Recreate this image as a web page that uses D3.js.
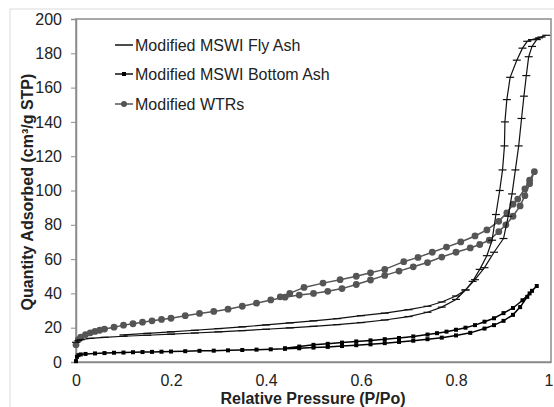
<!DOCTYPE html>
<html>
<head>
<meta charset="utf-8">
<script src="https://cdn.jsdelivr.net/npm/d3@7"></script>
<style>
  body { margin: 0; background: #fff; }
  svg { font-family: "Liberation Sans", Arial, sans-serif; }
  .tick-label { font-size: 16px; fill: #222; }
  .label { font-size: 16px; font-weight: bold; fill: #222; }
  .legend { font-size: 16px; fill: #222; }
</style>
</head>
<body>
<svg width="554" height="407"></svg>
<script>
// **** data: [relative pressure, quantity adsorbed] ****

var flyAshAds = [
  [0, 11.5], [0.005, 12.5], [0.01, 13], [0.03, 13.8], [0.06, 14.4], [0.1, 15],
  [0.15, 15.6], [0.2, 16.2], [0.25, 16.9], [0.3, 17.6], [0.35, 18.3], [0.4, 19.1],
  [0.45, 19.9], [0.5, 20.8], [0.55, 21.8], [0.6, 23], [0.65, 24.5], [0.7, 26.5],
  [0.74, 29], [0.77, 32], [0.8, 36.5], [0.82, 42], [0.84, 48], [0.86, 55],
  [0.88, 64], [0.9, 72], [0.91, 85], [0.918, 98], [0.925, 112], [0.932, 126],
  [0.938, 142], [0.943, 155], [0.948, 167], [0.953, 178], [0.96, 184],
  [0.97, 188], [0.98, 189.5], [0.99, 190.5]
];
var flyAshDes = [
  [0.99, 190.5], [0.975, 189], [0.96, 188], [0.95, 187], [0.94, 183],
  [0.928, 176], [0.914, 166], [0.907, 153], [0.903, 140], [0.902, 126],
  [0.898, 112], [0.892, 100], [0.884, 86], [0.876, 71], [0.865, 62],
  [0.85, 54], [0.835, 47], [0.82, 42], [0.8, 38.5], [0.77, 35], [0.74, 32.5],
  [0.7, 30.5], [0.65, 28.5], [0.6, 27], [0.55, 25.3], [0.5, 24], [0.45, 22.8],
  [0.4, 21.6], [0.35, 20.5], [0.3, 19.5], [0.25, 18.5], [0.2, 17.6],
  [0.15, 16.7], [0.1, 15.8]
];

var bottomAshAds = [
  [0, 0.5], [0.002, 3], [0.005, 4], [0.01, 4.4], [0.02, 4.7], [0.04, 5],
  [0.06, 5.2], [0.08, 5.4], [0.1, 5.5], [0.12, 5.7], [0.14, 5.8], [0.16, 5.9],
  [0.18, 6], [0.2, 6.1], [0.23, 6.3], [0.26, 6.5], [0.29, 6.6], [0.32, 6.8],
  [0.35, 7], [0.38, 7.2], [0.41, 7.4], [0.44, 7.7], [0.47, 8], [0.5, 8.4],
  [0.53, 8.8], [0.56, 9.3], [0.59, 9.8], [0.62, 10.3], [0.65, 11], [0.68, 11.7],
  [0.71, 12.4], [0.74, 13.3], [0.77, 14.2], [0.8, 15.5], [0.83, 17],
  [0.86, 19.5], [0.88, 21.5], [0.9, 24], [0.92, 27.5], [0.935, 32],
  [0.95, 38], [0.96, 41.5], [0.97, 44.3]
];
var bottomAshDes = [
  [0.97, 44.3], [0.955, 40], [0.94, 36], [0.92, 31.5], [0.9, 28.5],
  [0.88, 25.5], [0.86, 23.5], [0.84, 21.5], [0.82, 20], [0.8, 18.8],
  [0.78, 17.7], [0.76, 16.8], [0.74, 16], [0.71, 14.9], [0.68, 14],
  [0.65, 13.3], [0.62, 12.6], [0.59, 12], [0.56, 11.3], [0.53, 10.6],
  [0.5, 10], [0.47, 9], [0.44, 8]
];

var wtrsAds = [
  [0, 10], [0.005, 13], [0.01, 14.5], [0.02, 16], [0.03, 17], [0.04, 17.8],
  [0.05, 18.5], [0.06, 19.2], [0.08, 20.3], [0.1, 21.5], [0.12, 22.3],
  [0.14, 23.2], [0.16, 24], [0.18, 24.8], [0.2, 25.5], [0.23, 27], [0.26, 28.3],
  [0.29, 29.5], [0.32, 30.8], [0.35, 32.5], [0.38, 34.3], [0.41, 36.2],
  [0.44, 37.8], [0.47, 39], [0.5, 40], [0.53, 41.2], [0.56, 42.8], [0.59, 45.2],
  [0.62, 47.8], [0.65, 50.5], [0.68, 53], [0.71, 55.5], [0.74, 58],
  [0.77, 61.2], [0.8, 64], [0.83, 66.5], [0.85, 68.5], [0.87, 71],
  [0.89, 76], [0.905, 80], [0.92, 85], [0.935, 91], [0.945, 97],
  [0.955, 104], [0.965, 111]
];
var wtrsDes = [
  [0.965, 111], [0.955, 106], [0.945, 101], [0.93, 95], [0.92, 92],
  [0.907, 87], [0.89, 82], [0.865, 77], [0.84, 73.5], [0.81, 70],
  [0.78, 67], [0.75, 64], [0.72, 61], [0.69, 58.5], [0.65, 54], [0.62, 52],
  [0.59, 50], [0.556, 48], [0.52, 46], [0.48, 43.5], [0.45, 40], [0.43, 38]
];

var seriesNames = ["Modified MSWI Fly Ash", "Modified MSWI Bottom Ash", "Modified WTRs"];
var xTicks = [0, 0.2, 0.4, 0.6, 0.8, 1];
var yTicks = [0, 20, 40, 60, 80, 100, 120, 140, 160, 180, 200];

// **** scales ****

var xScale = d3.scaleLinear().domain([0, 1]).range([76, 551]);
var yScale = d3.scaleLinear().domain([0, 200]).range([362, 19]);

var svg = d3.select("svg");

// outer chart border
svg.append("rect")
    .attr("x", 10).attr("y", 9)
    .attr("width", 560).attr("height", 420)
    .attr("fill", "none")
    .attr("stroke", "#dcdcdc");

// plot area border
svg.append("rect")
    .attr("x", xScale(0)).attr("y", yScale(200))
    .attr("width", xScale(1) - xScale(0))
    .attr("height", yScale(0) - yScale(200))
    .attr("fill", "none")
    .attr("stroke", "#8c8c8c")
    .attr("stroke-width", 1.5);

// y axis ticks + labels
var yAxis = svg.append("g").attr("class", "y axis")
    .attr("transform", "translate(" + xScale(0) + ",0)")
    .call(d3.axisLeft(yScale).tickValues(yTicks).tickSize(5).tickPadding(9));
yAxis.select(".domain").attr("stroke", "#8c8c8c").attr("stroke-width", 1.5);
yAxis.selectAll(".tick line").attr("stroke", "#8c8c8c");
yAxis.selectAll(".tick text")
    .attr("class", "tick-label")
    .attr("font-family", null).attr("font-size", null).attr("fill", null);

// x axis labels
var xAxis = svg.append("g").attr("class", "x axis")
    .attr("transform", "translate(0," + yScale(0) + ")")
    .call(d3.axisBottom(xScale).tickValues(xTicks).tickSize(0).tickPadding(13)
        .tickFormat(function(d) { return d; }));
xAxis.select(".domain").attr("stroke", "#8c8c8c").attr("stroke-width", 1.5);
xAxis.selectAll(".tick text")
    .attr("class", "tick-label")
    .attr("font-family", null).attr("font-size", null).attr("fill", null);
// last label sits on the window edge, keep it inside
xAxis.selectAll(".tick text")
    .filter(function(d) { return d == 1; })
    .attr("text-anchor", "end")
    .attr("x", 2);

// axis titles
svg.append("text")
    .attr("class", "label")
    .attr("text-anchor", "middle")
    .attr("transform", "translate(313,404)")
    .text("Relative Pressure (P/Po)");

svg.append("text")
    .attr("class", "label")
    .attr("text-anchor", "middle")
    .attr("transform", "translate(33,192) rotate(-90)")
    .text("Quantity Adsorbed (cm\u00b3/g STP)");

// **** curves ****

var line = d3.line()
    .x(function(d) { return xScale(d[0]); })
    .y(function(d) { return yScale(d[1]); });

function drawLoop(ads, des, color, width) {
    var pts = ads.concat(des.slice(1));
    svg.append("path")
        .datum(pts)
        .attr("d", line)
        .attr("fill", "none")
        .attr("stroke", color)
        .attr("stroke-width", width);
    return pts;
}

var wtrsPts = drawLoop(wtrsAds, wtrsDes, "#555", 1.5);
svg.append("g").selectAll("circle")
    .data(wtrsPts)
    .enter()
    .append("circle")
    .attr("cx", function(d) { return xScale(d[0]); })
    .attr("cy", function(d) { return yScale(d[1]); })
    .attr("r", 3.4)
    .attr("fill", "#555");

var flyPts = drawLoop(flyAshAds, flyAshDes, "#111", 1.2);
svg.append("g").selectAll("line")
    .data(flyPts)
    .enter()
    .append("line")
    .attr("x1", function(d) { return xScale(d[0]) - 4; })
    .attr("x2", function(d) { return xScale(d[0]) + 4; })
    .attr("y1", function(d) { return yScale(d[1]); })
    .attr("y2", function(d) { return yScale(d[1]); })
    .attr("stroke", "#111")
    .attr("stroke-width", 1.2);

var bottomPts = drawLoop(bottomAshAds, bottomAshDes, "#000", 1.5);
svg.append("g").selectAll("rect")
    .data(bottomPts)
    .enter()
    .append("rect")
    .attr("x", function(d) { return xScale(d[0]) - 2; })
    .attr("y", function(d) { return yScale(d[1]) - 2; })
    .attr("width", 4).attr("height", 4)
    .attr("fill", "#000");

// **** legend ****

var legendY = [45, 74, 104];
var legend = svg.append("g").selectAll("g")
    .data(seriesNames)
    .enter()
    .append("g")
    .attr("transform", function(d, i) { return "translate(115," + legendY[i] + ")"; });

legend.append("line")
    .attr("x1", 0).attr("x2", 18)
    .attr("stroke", function(d, i) { return i == 2 ? "#555" : "#111"; })
    .attr("stroke-width", 1.5);

legend.filter(function(d, i) { return i == 1; }).append("rect")
    .attr("x", 7).attr("y", -2).attr("width", 4).attr("height", 4)
    .attr("fill", "#000");

legend.filter(function(d, i) { return i == 2; }).append("circle")
    .attr("cx", 9).attr("r", 3)
    .attr("fill", "#555");

legend.append("text")
    .attr("class", "legend")
    .attr("x", 20)
    .attr("dy", "0.35em")
    .text(function(d) { return d; });
</script>
</body>
</html>
